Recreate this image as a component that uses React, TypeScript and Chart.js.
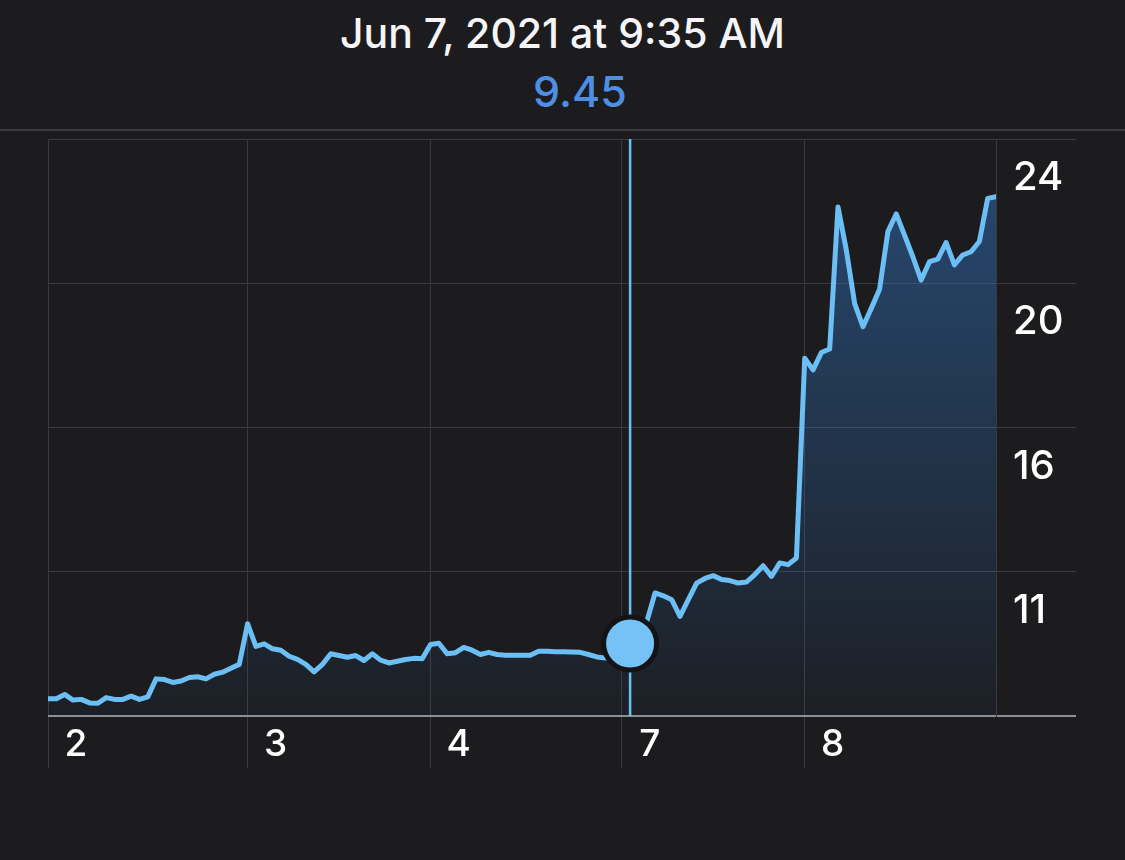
import React, { useEffect, useRef } from 'react';
import { Chart, registerables } from 'chart.js';

Chart.register(...registerables);

const headerDate = 'Jun 7, 2021 at 9:35 AM';
const headerValue = '9.45';

// one value per sample (trading intervals Jun 2 – Jun 8)
const prices = [
  7.89, 7.89, 8.01, 7.85, 7.87, 7.77, 7.76, 7.92, 7.87, 7.87,
  7.96, 7.87, 7.94, 8.45, 8.43, 8.35, 8.39, 8.49, 8.51, 8.45,
  8.58, 8.64, 8.75, 8.86, 10.01, 9.37, 9.44, 9.30, 9.26, 9.09,
  9.00, 8.86, 8.65, 8.86, 9.16, 9.11, 9.06, 9.11, 8.97, 9.16,
  8.98, 8.90, 8.95, 9.00, 9.03, 9.02, 9.42, 9.46, 9.16, 9.19,
  9.34, 9.26, 9.14, 9.20, 9.14, 9.12, 9.12, 9.12, 9.12, 9.23,
  9.23, 9.22, 9.22, 9.21, 9.20, 9.14, 9.07, 9.04, 9.04, 9.22,
  9.45, 9.73, 10.07, 10.88, 10.80, 10.69, 10.22, 10.69, 11.16, 11.29,
  11.37, 11.26, 11.23, 11.16, 11.19, 11.40, 11.65, 11.35, 11.73, 11.68,
  11.87, 17.52, 17.19, 17.68, 17.78, 21.80, 20.58, 19.07, 18.41, 18.93,
  19.47, 21.10, 21.60, 21.00, 20.39, 19.73, 20.25, 20.32, 20.79, 20.16,
  20.44, 20.53, 20.82, 22.04, 22.09,
];

const dayTickIndex = [0, 24, 46, 69, 91];
const dayTickLabels = ['2', '3', '4', '7', '8'];
const lastIndex = 114;

const priceTickValues = [7.40, 11.48, 15.56, 19.64, 23.72];
const priceTickLabels = ['', '11', '16', '20', '24'];

const cursorIndex = 70;

const BG = '#1c1c1e';
const GRID = '#3a3a3c';
const LINE = '#6cbff4';
const FONT = 'Inter, "Noto Sans", sans-serif';

const cursorPlugin = {
  id: 'cursorLine',
  afterDatasetDraw(chart: any, args: any) {
    if (args.index !== 0) return;
    const { ctx, chartArea, scales } = chart;
    const px = scales.x.getPixelForValue(cursorIndex);
    ctx.save();
    ctx.strokeStyle = LINE;
    ctx.lineWidth = 2.5;
    ctx.beginPath();
    ctx.moveTo(px, chartArea.top);
    ctx.lineTo(px, chartArea.bottom);
    ctx.stroke();
    ctx.restore();
  },
};

export default function App() {
  const canvasRef = useRef<HTMLCanvasElement | null>(null);

  useEffect(() => {
    document.body.style.margin = '0';
    document.body.style.background = BG;
    const canvas = canvasRef.current;
    if (!canvas) return;

    const lineData = prices.map((v, i) => ({ x: i, y: v }));
    const markerData = [{ x: cursorIndex, y: prices[cursorIndex] }];

    const chart = new Chart(canvas, {
      type: 'line',
      data: {
        datasets: [
          {
            data: lineData,
            order: 2,
            borderColor: LINE,
            borderWidth: 5,
            borderJoinStyle: 'round',
            borderCapStyle: 'round',
            pointRadius: 0,
            tension: 0,
            fill: 'start',
            backgroundColor: (ctx: any) => {
              const area = ctx.chart.chartArea;
              if (!area) return 'rgba(52,122,204,0.3)';
              const g = ctx.chart.ctx.createLinearGradient(0, area.top, 0, area.bottom);
              g.addColorStop(0, 'rgba(52,122,204,0.5)');
              g.addColorStop(1, 'rgba(52,122,204,0.04)');
              return g;
            },
          },
          {
            data: markerData,
            order: 1,
            showLine: false,
            fill: false,
            pointRadius: 26.5,
            pointBorderWidth: 5,
            pointBackgroundColor: '#75c3f6',
            pointBorderColor: '#141416',
          },
        ],
      },
      options: {
        responsive: false,
        animation: false,
        events: [],
        layout: { padding: { left: 48, top: 139, right: 0, bottom: 0 } },
        plugins: {
          legend: { display: false },
          tooltip: { enabled: false },
          title: { display: false },
        },
        scales: {
          x: {
            type: 'linear',
            position: 'bottom',
            min: 0,
            max: lastIndex,
            afterBuildTicks: (s: any) => {
              s.ticks = dayTickIndex.map((v) => ({ value: v }));
            },
            afterFit: (s: any) => {
              s.height = 144;
            },
            grid: { color: GRID, lineWidth: 1, drawTicks: true, tickLength: 52 },
            border: { display: false },
            ticks: {
              autoSkip: false,
              maxRotation: 0,
              color: '#ffffff',
              font: { family: FONT, size: 37, weight: '500' },
              labelOffset: 28,
              padding: -45,
              callback: (v: any) => {
                const i = dayTickIndex.indexOf(Number(v));
                return i >= 0 ? dayTickLabels[i] : '';
              },
            },
          },
          y: {
            type: 'linear',
            position: 'right',
            min: priceTickValues[0],
            max: priceTickValues[priceTickValues.length - 1],
            afterBuildTicks: (s: any) => {
              s.ticks = priceTickValues.map((v) => ({ value: v }));
            },
            afterFit: (s: any) => {
              s.width = 129;
            },
            grid: {
              color: (c: any) => (c.index === 0 ? '#8e8e93' : GRID),
              lineWidth: (c: any) => (c.index === 0 ? 2 : 1),
              drawTicks: true,
              tickLength: 80,
            },
            border: { display: true, color: GRID, width: 1 },
            ticks: {
              autoSkip: false,
              color: '#ffffff',
              font: { family: FONT, size: 40, weight: '500' },
              labelOffset: 39,
              padding: -63,
              callback: (_v: any, i: number) => priceTickLabels[i] ?? '',
            },
          },
        },
      },
      plugins: [cursorPlugin],
    } as any);

    return () => chart.destroy();
  }, []);

  return (
    <div style={{ position: 'relative', width: 1125, height: 860, background: BG, overflow: 'hidden' }}>
      <div
        style={{
          position: 'absolute',
          left: 0,
          width: 1125,
          top: 13,
          textAlign: 'center',
          fontFamily: FONT,
          fontSize: 41,
          lineHeight: '41px',
          fontWeight: 500,
          color: '#f5f5f7',
          whiteSpace: 'nowrap',
        }}
      >
        {headerDate}
      </div>
      <div
        style={{
          position: 'absolute',
          left: 580,
          top: 70,
          transform: 'translateX(-50%)',
          fontFamily: FONT,
          fontSize: 43,
          lineHeight: '43px',
          fontWeight: 500,
          color: '#4e8fe4',
          whiteSpace: 'nowrap',
        }}
      >
        {headerValue}
      </div>
      <div style={{ position: 'absolute', left: 0, top: 129, width: 1125, height: 2, background: GRID }} />
      <canvas ref={canvasRef} width={1125} height={860} style={{ position: 'absolute', left: 0, top: 0, display: 'block' }} />
    </div>
  );
}
